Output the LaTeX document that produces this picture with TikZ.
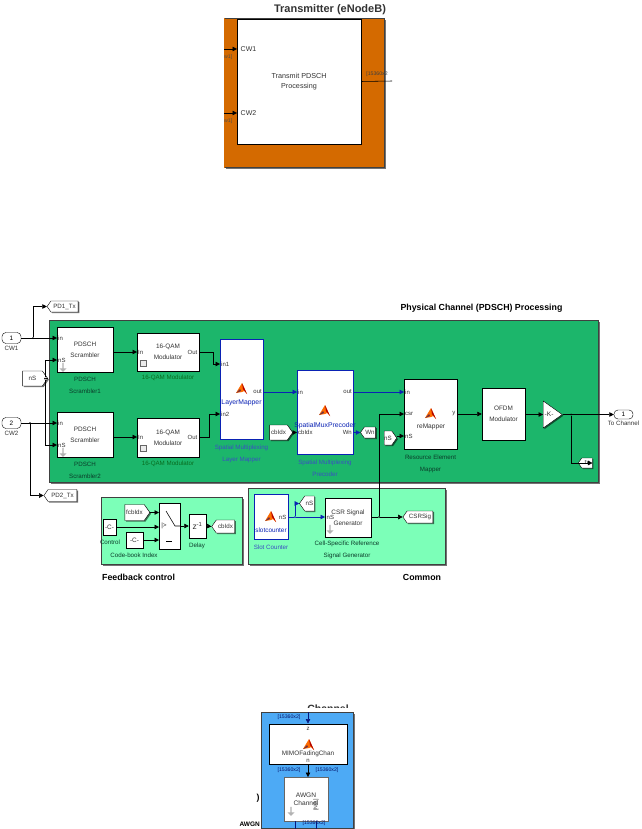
\documentclass[tikz,border=0pt]{standalone}
\usepackage{fontspec}
\setmainfont{Liberation Sans}
\usepackage{tikz}
\usetikzlibrary{
    arrows.meta,
    positioning,
    shapes.geometric,
    shapes.symbols,
    shapes.arrows,
    shadows
}
\definecolor{txorange}{HTML}{D46A00}
\definecolor{txgreen}{HTML}{1CB66B}
\definecolor{txmint}{HTML}{7CFFB8}
\definecolor{txsky}{HTML}{4DAAF5}
\definecolor{txblue}{HTML}{0A22B4}
\definecolor{txcap}{HTML}{0B3D2A}

\begin{document}
\begin{tikzpicture}[
    x=1pt, y=-1pt,
    shady/.style={drop shadow={shadow xshift=1.2pt, shadow yshift=-1.2pt, opacity=0.55, fill=black}},
    panel/.style={rectangle, draw=black!75, line width=0.7pt, shady, inner sep=0pt},
    blockbox/.style={rectangle, draw=black, fill=white, line width=0.5pt, shady, inner sep=0pt, align=center, font=\fontsize{6.4}{11}\selectfont, text=black!80},
    mlbox/.style={blockbox, draw=txblue, line width=1pt},
    heavybox/.style={blockbox, line width=1pt},
    inport/.style={rectangle, rounded corners=4pt, draw=black, fill=white, inner sep=0pt, minimum width=19pt, minimum height=11pt, font=\fontsize{6.4}{8}\selectfont},
    gototag/.style={signal, signal to=west, signal pointer angle=110, draw=black, fill=white, shady, inner sep=1pt, font=\fontsize{6.2}{8}\selectfont, text=black!80},
    fromtag/.style={signal, signal to=east, signal pointer angle=110, draw=black, fill=white, shady, inner sep=1pt, font=\fontsize{6.2}{8}\selectfont, text=black!80},
    wire/.style={-{Triangle[length=4.5pt,width=4.5pt]}, line width=0.55pt, draw=black},
    plainwire/.style={line width=0.55pt, draw=black},
    dotnode/.style={circle, fill=black, inner sep=0pt, minimum size=2pt},
    caption/.style={font=\fontsize{6.2}{12}\selectfont, align=center, text=txcap, inner sep=0pt},
    bluecap/.style={caption, text=txblue!80},
    dimcap/.style={caption, text=green!30!black, opacity=0.7},
    portname/.style={font=\fontsize{6}{8}\selectfont, inner sep=0.5pt, text=black!80},
    blueport/.style={portname, text=txblue},
    dimsize/.style={font=\fontsize{5.2}{6}\selectfont, inner sep=0pt, text=txblue!60!black},
    heading/.style={font=\fontsize{8.8}{10}\selectfont\bfseries, inner sep=0pt},
    ghostarrow/.style={single arrow, rotate=-90, fill=black!30, inner sep=0pt, minimum width=7pt, minimum height=9pt, single arrow head extend=1pt},
    iconbox/.style={rectangle, draw=black!60, fill=black!8, inner sep=0pt, minimum size=6pt},
    mlogo/.pic={
        \fill[orange!85!red] (-6,3) -- (0,-7) -- (5,4) -- (2,1) -- (0,2) -- cycle;
        \fill[blue!45!black, opacity=0.55] (-6,3) -- (-2,-1) -- (-1,1) -- cycle;
        \fill[red!70!black] (0,-7) -- (5,4) -- (1,-1) -- cycle;
    }
]
\useasboundingbox (0,0) rectangle (641,829);

% Transmitter
\node[panel, fill=txorange, anchor=north west, minimum width=160pt, minimum height=149pt] (txpanel) at (224,18) {};
\draw[txorange, line width=1pt] (txpanel.north west) -- (txpanel.south west);
\node[blockbox, minimum width=124pt, minimum height=125pt, font=\fontsize{7.2}{10}\selectfont] (txblock) at (299,81.5) {Transmit PDSCH\\ Processing};
\node[heading, font=\fontsize{11}{12}\selectfont\bfseries, text=black!80] (txtitle) at (330,10) {Transmitter (eNodeB)};
\coordinate (txcw1a) at (224,49);
\coordinate (txcw2a) at (224,113);
\coordinate (txcw1b) at (237,49);
\coordinate (txcw2b) at (237,113);
\coordinate (txoutb) at (392,81);
\draw[wire] (txcw1a) -- (txcw1b);
\draw[wire] (txcw2a) -- (txcw2b);
\draw[plainwire] (txblock.east) -- (txoutb);
\node[portname, font=\fontsize{7}{8}\selectfont, right=3pt of txcw1b] (txcw1) {CW1};
\node[portname, font=\fontsize{7}{8}\selectfont, right=3pt of txcw2b] (txcw2) {CW2};
\node[dimsize, text=black!70, anchor=west] (txd1) at (224,57) {w1]};
\node[dimsize, text=black!70, anchor=west] (txd2) at (224,121) {w1]};
\node[dimsize, text=black!75] (txd3) at (377,74) {[15360x2};

% Physical channel
\node[panel, fill=txgreen, anchor=north west, minimum width=549pt, minimum height=162pt] (phypanel) at (49,320) {};
\node[heading] (phytitle) at (481.5,308) {Physical Channel (PDSCH) Processing};

\node[inport] (cw1) at (11.5,338) {1};
\node[inport] (cw2) at (11.5,423) {2};
\node[caption, text=black!80, below=2pt of cw1] (cw1cap) {CW1};
\node[caption, text=black!80, below=2pt of cw2] (cw2cap) {CW2};
\node[gototag, minimum width=31pt, minimum height=11pt] (pd1) at (64.5,306.5) {PD1\_Tx};
\node[gototag, minimum width=33pt, minimum height=12pt] (pd2) at (62.5,495.5) {PD2\_Tx};
\node[fromtag, minimum width=25pt, minimum height=15pt] (nsfrom) at (32.5,378.5) {nS};

\node[blockbox, minimum width=56pt, minimum height=45pt] (sc1) at (85,349.5) {PDSCH\\ Scrambler};
\node[blockbox, minimum width=56pt, minimum height=45pt] (sc2) at (85,434.5) {PDSCH\\ Scrambler};
\node[blockbox, minimum width=62pt, minimum height=38pt] (mod1) at (168,352) {16-QAM\\ Modulator};
\node[blockbox, minimum width=62pt, minimum height=39pt] (mod2) at (168,437.5) {16-QAM\\ Modulator};
\node[mlbox, minimum width=43pt, minimum height=100pt] (layer) at (241.5,389) {};
\node[mlbox, minimum width=56pt, minimum height=84pt] (precoder) at (325,412) {};
\node[heavybox, minimum width=53pt, minimum height=70pt] (remap) at (430.5,414) {};
\node[blockbox, minimum width=43pt, minimum height=52pt] (ofdm) at (503.5,414) {OFDM\\ Modulator};
\node[isosceles triangle, isosceles triangle stretches, draw=black, fill=white, shady, inner sep=0pt, minimum width=27pt, minimum height=19pt, anchor=west] (gain) at (543,414.5) {};
\node[portname, font=\fontsize{6.6}{8}\selectfont, anchor=west] (gainl) at (544,414.5) {-K-};
\node[inport, minimum width=19pt, minimum height=9pt] (tochan) at (623.5,414.5) {1};
\node[caption, text=black!80, below=2pt of tochan] (tochancap) {To Channel};
\node[gototag, minimum width=14pt, minimum height=10pt, inner sep=0pt] (txtag) at (587,463) {tx};

\node[fromtag, minimum width=23pt, minimum height=15pt] (cbfrom) at (278.5,432.5) {cbIdx};
\node[gototag, minimum width=14pt, minimum height=11pt] (wntag) at (370,432.5) {Wn};
\node[fromtag, minimum width=10pt, minimum height=14pt, inner sep=0pt] (nsfrom2) at (388,438) {nS};

% Port positions
\coordinate (sc1in) at (57,338);
\coordinate (sc1ns) at (57,360);
\coordinate (sc2in) at (57,423);
\coordinate (sc2ns) at (57,445);
\coordinate (mod1in) at (137,352);
\coordinate (mod2in) at (137,437);
\coordinate (layin1) at (220,364);
\coordinate (layin2) at (220,414);
\coordinate (layout) at (263,392);
\coordinate (prein) at (297,392);
\coordinate (precb) at (297,432.5);
\coordinate (preout) at (353,392);
\coordinate (prewn) at (353,432.5);
\coordinate (remin) at (404,392);
\coordinate (remcsr) at (404,414);
\coordinate (remns) at (404,436);
\coordinate (txjoin) at (571,414.5);
\coordinate (mod1mid) at (213,352);
\coordinate (mod2mid) at (209,437);

\node[dotnode] (cw1dot) at (33,338) {};
\node[dotnode] (cw2dot) at (30,423) {};
\node[dotnode] (nsdot) at (45,378.5) {};
\node[dotnode] (gaindot) at (txjoin) {};

\draw[wire] (cw1dot) |- (pd1.west);
\draw[wire] (cw2dot) |- (pd2.west);
\draw[wire] (cw1.east) -- (sc1in);
\draw[wire] (cw2.east) -- (sc2in);
\draw[plainwire] (nsfrom.east) -- (nsdot);
\draw[wire] (nsdot) |- (sc1ns);
\draw[wire] (nsdot) |- (sc2ns);
\draw[wire] (sc1.east |- mod1in) -- (mod1in);
\draw[wire] (sc2.east |- mod2in) -- (mod2in);
\draw[wire] (mod1.east) -- (mod1mid) |- (layin1);
\draw[wire] (mod2.east |- mod2in) -- (mod2mid) |- (layin2);
\draw[wire, draw=txblue] (layout) -- (prein);
\draw[wire, draw=txblue] (preout) -- (remin);
\draw[wire, draw=txblue] (prewn) -- (wntag.west);
\draw[wire] (cbfrom.east) -- (precb);
\draw[wire] (nsfrom2.east |- remns) -- (remns);
\draw[wire] (remap.east) -- (ofdm.west);
\draw[wire] (ofdm.east |- gain.west) -- (gain.west);
\draw[wire] (gain.east) -- (tochan.west);
\draw[wire] (gaindot) |- (txtag.east);

% Port names
\node[portname, right=0.5pt of sc1in] (sc1inl) {in};
\node[portname, right=0.5pt of sc1ns] (sc1nsl) {nS};
\node[portname, right=0.5pt of sc2in] (sc2inl) {in};
\node[portname, right=0.5pt of sc2ns] (sc2nsl) {nS};
\node[ghostarrow] (sc1g) at (63,367) {};
\node[ghostarrow] (sc2g) at (63,452) {};
\node[portname, right=0.5pt of mod1in] (mod1inl) {In};
\node[portname, right=0.5pt of mod2in] (mod2inl) {In};
\node[portname, anchor=east] (mod1outl) at (198,352) {Out};
\node[portname, anchor=east] (mod2outl) at (198,437) {Out};
\node[iconbox] (mod1ic) at (143,363.5) {};
\node[iconbox] (mod2ic) at (143,448.5) {};
\node[portname, right=0.5pt of layin1] (layin1l) {in1};
\node[portname, right=0.5pt of layin2] (layin2l) {in2};
\node[portname, left=0.5pt of layout] (layoutl) {out};
\node[portname, right=0.5pt of prein] (preinl) {in};
\node[portname, left=0.5pt of preout] (preoutl) {out};
\node[portname, right=0.5pt of precb] (precbl) {cbIdx};
\node[portname, left=0.5pt of prewn] (prewnl) {Wn};
\node[portname, right=0.5pt of remin] (reminl) {in};
\node[portname, right=0.5pt of remcsr] (remcsrl) {csr};
\node[portname, right=0.5pt of remns] (remnsl) {nS};
\node[portname, anchor=east] (remyl) at (456,414) {y};

% Function blocks
\pic at (242,390) {mlogo};
\pic at (325,412) {mlogo};
\pic at (431,415) {mlogo};
\node[blueport, font=\fontsize{6.8}{8}\selectfont] (laytext) at (241.5,403) {LayerMapper};
\node[blueport, font=\fontsize{6.8}{8}\selectfont] (pretext) at (325,425.5) {SpatialMuxPrecoder};
\node[portname, font=\fontsize{6.6}{8}\selectfont] (remtext) at (431,427) {reMapper};

% Captions
\node[caption, below=5pt of sc1] (sc1cap) {PDSCH\\ Scrambler1};
\node[caption, below=5pt of sc2] (sc2cap) {PDSCH\\ Scrambler2};
\node[dimcap, below=4pt of mod1] (mod1cap) {16-QAM Modulator};
\node[dimcap, below=4pt of mod2] (mod2cap) {16-QAM Modulator};
\node[bluecap, below=5pt of layer] (laycap) {Spatial Multiplexing\\ Layer Mapper};
\node[bluecap, below=5pt of precoder] (precap) {Spatial Multiplexing\\ Precoder};
\node[caption, below=5pt of remap] (remcap) {Resource Element\\ Mapper};

% Feedback control
\node[panel, fill=txmint, anchor=north west, minimum width=141pt, minimum height=67pt] (fbpanel) at (101,497) {};
\node[fromtag, minimum width=25pt, minimum height=16pt] (fcbfrom) at (134.5,512.5) {fcbIdx};
\node[blockbox, minimum width=13pt, minimum height=16pt] (ctrl) at (109.5,527) {-C-};
\node[blockbox, minimum width=17pt, minimum height=16pt] (cbconst) at (134.5,540) {-C-};
\node[blockbox, minimum width=21pt, minimum height=46pt] (switch) at (169.5,526) {};
\node[blockbox, minimum width=17pt, minimum height=24pt, font=\fontsize{8.4}{10}\selectfont] (delay) at (197.5,526) {z\textsuperscript{-1}};
\node[gototag, minimum width=23pt, minimum height=13pt] (cbtag) at (225.5,526.5) {cbIdx};
\coordinate (swin1) at (159,512.5);
\coordinate (swin2) at (159,527);
\coordinate (swin3) at (159,540);
\draw[wire] (fcbfrom.east) -- (swin1);
\draw[wire] (ctrl.east) -- (swin2);
\draw[wire] (cbconst.east) -- (swin3);
\draw[wire] (switch.east) -- (delay.west);
\draw[wire] (delay.east) -- (cbtag.west);
\node[portname, font=\fontsize{6.4}{8}\selectfont] (swl) at (164,526) {|>};
\coordinate (swa) at (166,511);
\coordinate (swb) at (175,526);
\coordinate (swc) at (180,526);
\coordinate (swd) at (166,541);
\coordinate (swe) at (172,541);
\draw[plainwire] (swa) -- (swb) -- (swc);
\draw[plainwire] (swd) -- (swe);
\node[caption] (ctrlcap) at (110,542) {Control};
\node[caption] (cbcap) at (134,555) {Code-book Index};
\node[caption] (delaycap) at (197,546) {Delay};
\node[heading, anchor=west] (fbtitle) at (102,577) {Feedback control};

% Common
\node[panel, fill=txmint, anchor=north west, minimum width=197pt, minimum height=76pt] (companel) at (248,488) {};
\node[mlbox, minimum width=34pt, minimum height=45pt] (slot) at (271,516.5) {};
\node[gototag, minimum width=13pt, minimum height=15pt] (nstag) at (309.5,503.5) {nS};
\node[blockbox, minimum width=46pt, minimum height=39pt, font=\fontsize{6.4}{11}\selectfont] (csr) at (348,517.5) {CSR Signal\\ Generator};
\node[gototag, minimum width=30pt, minimum height=12pt] (csrtag) at (420,517) {CSRSig};
\pic at (271,518) {mlogo};
\node[blueport, font=\fontsize{6.4}{8}\selectfont] (slottext) at (271,530) {slotcounter};
\node[portname, anchor=east] (slotl) at (287,517) {nS};
\node[portname, anchor=west] (csrinl) at (326,517) {nS};
\node[ghostarrow] (csrg) at (330,529) {};
\coordinate (csrin) at (325,517);
\node[dotnode, fill=txblue] (slotdot) at (295,517) {};
\node[dotnode] (csrdot) at (379,517) {};
\draw[plainwire, draw=txblue] (slot.east |- slotdot) -- (slotdot);
\draw[wire, draw=txblue] (slotdot) -- (csrin);
\draw[wire, draw=txblue] (slotdot) |- (nstag.west);
\draw[plainwire] (csr.east |- csrdot) -- (csrdot);
\draw[wire] (csrdot) -- (csrtag.west);
\draw[wire] (csrdot) |- (remcsr);
\node[bluecap] (slotcap) at (271,547) {Slot Counter};
\node[caption] (csrcap) at (347,550) {Cell-Specific Reference\\ Signal Generator};
\node[heading] (comtitle) at (422,577) {Common};

% Channel
\node[heading, font=\fontsize{10.5}{12}\selectfont\bfseries, text=black!80] (chtitle) at (328,709) {Channel};
\fill[white] (295,708) rectangle (365,712);
\node[panel, fill=txsky, anchor=north west, minimum width=92pt, minimum height=116pt] (chpanel) at (261,712) {};
\node[heavybox, minimum width=78pt, minimum height=40pt] (mimo) at (308,744) {};
\node[blockbox, draw=black!60, minimum width=44pt, minimum height=44pt, font=\fontsize{6.6}{8.5}\selectfont] (awgn) at (306,799) {AWGN\\ Channel};
\pic at (309,746) {mlogo};
\node[portname, font=\fontsize{6.4}{8}\selectfont] (mimotext) at (308,754) {MIMOFadingChan};
\node[portname] (mimoz) at (308,728.5) {z};
\node[portname] (mimon) at (308,761) {n};
\node[ghostarrow] (awgng) at (291,811) {};
\node[portname, rotate=90, font=\fontsize{5.2}{6}\selectfont] (awgnna) at (316,805) {[N/A]};
\coordinate (chin) at (308,712);
\coordinate (chlink) at (308,777);
\coordinate (chout1) at (295,829);
\coordinate (chout2) at (316,829);
\draw[wire, draw=txblue!70!black] (chin) -- (mimo.north -| chin);
\draw[wire] (mimo.south -| chlink) -- (chlink);
\draw[plainwire, draw=txblue!70!black] (awgn.south -| chout1) -- (chout1);
\draw[plainwire, draw=txblue!70!black] (awgn.south -| chout2) -- (chout2);
\node[dimsize] (chd1) at (289,717.5) {[15360x2]};
\node[dimsize] (chd2) at (289,770) {[15360x2]};
\node[dimsize] (chd3) at (327,770) {[15360x2]};
\node[dimsize] (chd4) at (314,823.5) {[15360x2]};
\node[heading] (chbrace) at (258,798) {)};
\node[heading, font=\fontsize{6.5}{8}\selectfont\bfseries, anchor=east] (chawgn) at (260,824) {AWGN};
\end{tikzpicture}
\end{document}
